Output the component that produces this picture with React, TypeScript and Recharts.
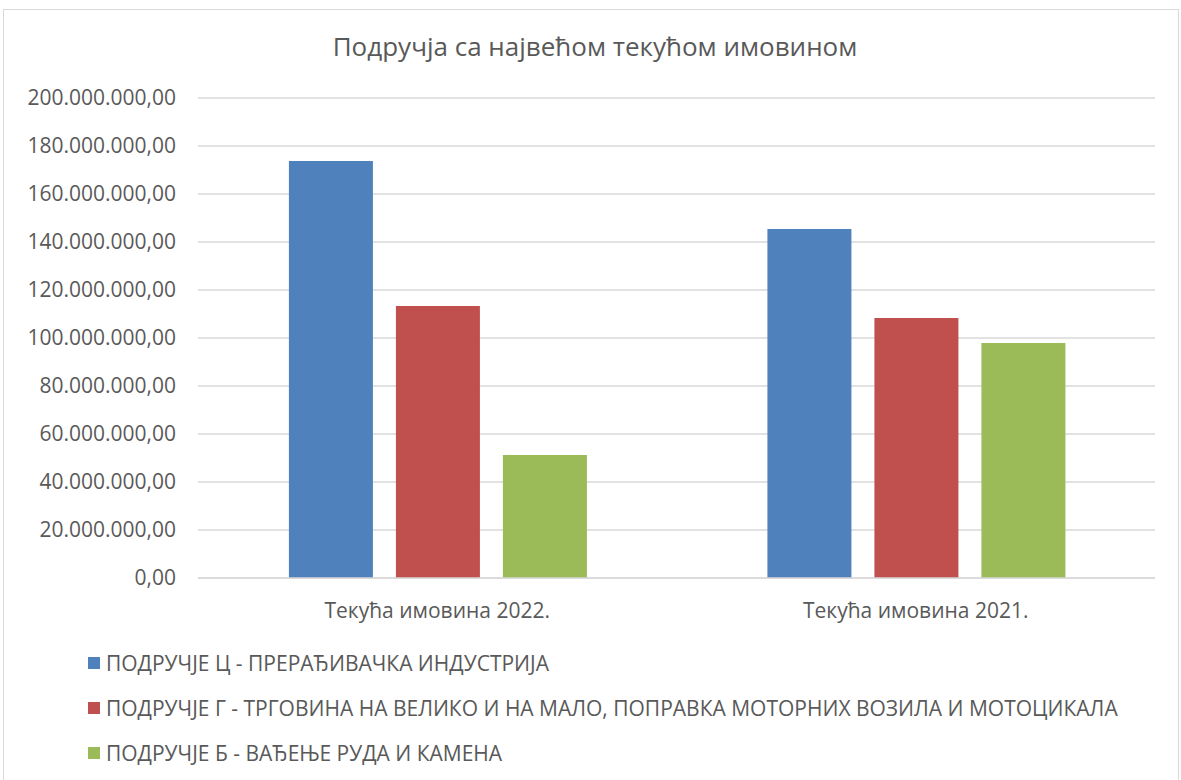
import { Bar, BarChart, CartesianGrid, XAxis, YAxis } from "recharts";

const categories = ["Текућа имовина 2022.", "Текућа имовина 2021."];

const seriesNames = [
  "ПОДРУЧЈЕ Ц - ПРЕРАЂИВАЧКА ИНДУСТРИЈА",
  "ПОДРУЧЈЕ Г - ТРГОВИНА НА ВЕЛИКО И НА МАЛО, ПОПРАВКА МОТОРНИХ ВОЗИЛА И МОТОЦИКАЛА",
  "ПОДРУЧЈЕ Б - ВАЂЕЊЕ РУДА И КАМЕНА",
];

const processing = [173700000, 145400000];
const trade = [113300000, 108300000];
const mining = [51300000, 97900000];

const yTicks = [0, 20000000, 40000000, 60000000, 80000000, 100000000, 120000000, 140000000, 160000000, 180000000, 200000000];

const COLORS = ["#4f81bd", "#c0504d", "#9bbb59"];
const KEYS = ["s0", "s1", "s2"];

const data = categories.map((name, i) => ({
  name,
  s0: processing[i],
  s1: trade[i],
  s2: mining[i],
}));

const FONT = "'Open Sans', sans-serif";
const TEXT = "#595959";

function formatValue(v: number) {
  const s = Math.round(v).toString().replace(/\B(?=(\d{3})+(?!\d))/g, ".");
  return `${s},00`;
}

export default function App() {
  return (
    <div
      style={{
        position: "absolute",
        left: 0,
        top: 0,
        width: 1181,
        height: 780,
        background: "#fff",
        fontFamily: FONT,
        overflow: "hidden",
      }}
    >
      <div
        style={{
          position: "absolute",
          left: 3,
          top: 9,
          width: 1174,
          height: 800,
          border: "1px solid #d9d9d9",
        }}
      />
      <div
        style={{
          position: "absolute",
          left: 10,
          top: 28,
          width: 1170,
          textAlign: "center",
          fontSize: 26,
          color: TEXT,
        }}
      >
        Подручја са највећом текућом имовином
      </div>
      <div style={{ position: "absolute", left: 0, top: 0 }}>
        <BarChart
          width={1181}
          height={640}
          data={data}
          margin={{ top: 98, right: 26, bottom: 32, left: 8 }}
          barCategoryGap="19%"
          barGap={23}
        >
          <CartesianGrid vertical={false} stroke="#d9d9d9" strokeWidth={1.5} />
          <XAxis
            dataKey="name"
            axisLine={{ stroke: "#d9d9d9", strokeWidth: 1.5 }}
            tickLine={false}
            tickMargin={19}
            tick={{ fill: TEXT, fontSize: 21, fontFamily: FONT }}
          />
          <YAxis
            width={190}
            domain={[0, 200000000]}
            ticks={yTicks}
            axisLine={false}
            tickLine={false}
            tickSize={0}
            tickMargin={22}
            tickFormatter={formatValue}
            tick={{ fill: TEXT, fontSize: 21, fontFamily: FONT }}
          />
          {KEYS.map((k, i) => (
            <Bar key={k} dataKey={k} name={seriesNames[i]} fill={COLORS[i]} isAnimationActive={false} />
          ))}
        </BarChart>
      </div>
      <div style={{ position: "absolute", left: 88, top: 640 }}>
        {seriesNames.map((n, i) => (
          <div
            key={n}
            style={{ display: "flex", alignItems: "center", height: 45, fontSize: 21, color: TEXT }}
          >
            <span
              style={{ display: "inline-block", width: 12, height: 12, background: COLORS[i], marginRight: 6 }}
            />
            {n}
          </div>
        ))}
      </div>
    </div>
  );
}
